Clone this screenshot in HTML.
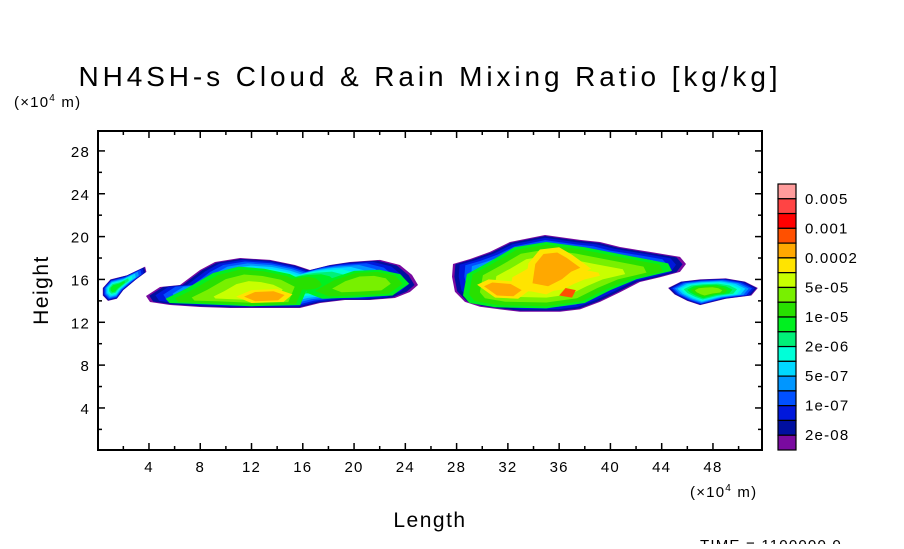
<!DOCTYPE html>
<html><head><meta charset="utf-8"><style>
html,body{margin:0;padding:0;background:#fff;}
svg text{font-family:"Liberation Sans",sans-serif;fill:#000;}
</style></head><body>
<svg id="chart" width="904" height="544" viewBox="0 0 904 544" xmlns="http://www.w3.org/2000/svg">
<text x="430" y="86" font-size="28" text-anchor="middle" letter-spacing="3.9">NH4SH-s Cloud &amp; Rain Mixing Ratio [kg/kg]</text>
<text x="14" y="107" font-size="15" letter-spacing="1.2">(×10<tspan font-size="10" dy="-6">4</tspan><tspan dy="6"> m)</tspan></text>
<text x="0" y="0" font-size="21" text-anchor="middle" letter-spacing="1.5" transform="translate(48,290) rotate(-90)">Height</text>
<text x="430" y="527" font-size="21" text-anchor="middle" letter-spacing="1.5">Length</text>
<text x="690" y="497" font-size="15" letter-spacing="1.2">(×10<tspan font-size="10" dy="-6">4</tspan><tspan dy="6"> m)</tspan></text>
<text x="700" y="550" font-size="15" letter-spacing="1.2">TIME =  1100000.0</text>
<g id="fields"></g>
<g id="axes"></g>
<g id="cbar"></g>
</svg>
<script>
const colors=["#7a0aa0","#000fa0","#0018dc","#0050ff","#0096ff","#00d8ff","#00ffd8","#00f078","#00f020","#28e000","#78f000","#c8ff00","#ffe400","#ffa800","#ff5000","#ff0000","#ff4444","#ff9c9c"];
const cbarLabels=["0.005","0.001","0.0002","5e-05","1e-05","2e-06","5e-07","1e-07","2e-08"];
const xTicks=[4,8,12,16,20,24,28,32,36,40,44,48];
const yTicks=[4,8,12,16,20,24,28];
const blobOutlines=[
 [[0.4,15.2],[1,16],[2.3,16.4],[3,16.8],[3.7,17.2],[3.8,16.7],[3,16],[2,15],[1.5,14.2],[0.8,14],[0.4,14.5]],
 [[3.77,14.45],[4.86,15.29],[6.42,15.48],[7.98,16.88],[9.15,17.63],[11.1,18.0],[13.44,17.82],[15.39,17.35],[16.56,16.88],[18.12,17.35],[19.68,17.63],[22.02,17.82],[23.58,17.35],[24.52,16.42],[24.99,15.48],[24.36,14.83],[23.19,14.27],[21.24,14.08],[19.29,14.08],[17.34,13.8],[15.78,13.33],[13.44,13.33],[10.32,13.33],[7.98,13.43],[5.64,13.61],[4.08,13.89]],
 [[5.3,14.2],[7,15.2],[9,16.6],[11,17.2],[13,17],[15,16.5],[16.5,15.6],[15.8,13.6],[12,13.5],[8,13.7],[5.6,13.8]],
 [[16.2,14.8],[18,16],[20,16.8],[22,16.9],[23.6,16.5],[24.3,15.6],[23,14.5],[20,14.3],[17.5,14.2]],
 [[10.8,14.4],[12,15],[14,15.1],[15.2,14.6],[14.5,13.9],[12,13.8]],
 [[27.72,17.44],[29.05,17.91],[30.6,18.57],[32.16,19.5],[33.72,19.87],[34.9,20.15],[37.63,19.69],[39.19,19.5],[40.75,19.03],[43.09,18.57],[45.43,18.1],[45.9,17.44],[45.43,16.7],[43.87,16.2],[42.3,15.76],[40.75,14.8],[39.19,13.9],[37.63,13.2],[36.07,12.98],[34.5,12.98],[32.94,12.98],[31.38,13.2],[29.82,13.45],[28.65,13.9],[27.87,14.85],[27.64,16.25]],
 [[28.5,14.5],[28.8,16.5],[30.5,17.6],[32.5,19],[35,19.5],[38,19],[41,18.3],[44.5,17.5],[44.8,16.8],[42,16],[40,15],[38,13.8],[35,13.3],[31,13.4],[29,13.8]],
 [[33.3,15],[33.6,17.5],[34.5,18.8],[36,19],[37,18.3],[38.5,17],[37.5,16.5],[36.5,15.5],[35,14.6]],
 [[29.6,15.5],[30.5,16],[32.5,15.8],[33.7,15],[32.8,14.2],[31,14.3]],
 [[36,14.5],[36.5,15.2],[37.3,15],[37,14.3]],
 [[44.5,15.2],[45.5,15.8],[47,16],[49,16.1],[50.5,15.8],[51.5,15.2],[51,14.5],[49,14.2],[47,13.6],[46,14],[45,14.6]]
];
const blobCores=[[1.3,15.2],[14,15.5],[12.5,14.6],[21,15.6],[13,14.4],[35,16.5],[35,16],[35.5,17.3],[31.5,15],[36.6,14.8],[47.5,14.9]];
const blobLevelLo=[0,0,8,8,12,0,8,12,12,14,0];
const blobLevelHi=[8,9,11,10,13,9,12,13,13,14,10];

const NS="http://www.w3.org/2000/svg";
const X0=97.7,XS=12.818,Y0=450.8,YS=10.71;
const px=x=>X0+x*XS, py=y=>Y0-y*YS;
const fields=document.getElementById('fields');
for(let k=0;k<colors.length;k++){
 for(let b=0;b<blobOutlines.length;b++){
  const lo=blobLevelLo[b],hi=blobLevelHi[b];
  if(k<lo||k>hi) continue;
  const t=(k-lo)/(hi-lo+1);
  const s=1-0.8*Math.pow(t,1.5);
  const c=blobCores[b];
  const pts=blobOutlines[b].map(p=>px(c[0]+(p[0]-c[0])*s).toFixed(1)+","+py(c[1]+(p[1]-c[1])*s).toFixed(1)).join(" ");
  const pg=document.createElementNS(NS,'polygon');
  pg.setAttribute('points',pts);
  pg.setAttribute('fill',colors[k]);
  
  
  fields.appendChild(pg);
 }
}
const axes=document.getElementById('axes');
function line(x1,y1,x2,y2,w,name){const l=document.createElementNS(NS,'line');l.setAttribute('x1',x1);l.setAttribute('y1',y1);l.setAttribute('x2',x2);l.setAttribute('y2',y2);l.setAttribute('stroke','#000');l.setAttribute('stroke-width',w);
 
 
 axes.appendChild(l);}
function text(x,y,str,anchor,name,parent){const t=document.createElementNS(NS,'text');t.setAttribute('x',x);t.setAttribute('y',y);t.setAttribute('font-size','15');t.setAttribute('letter-spacing','1.2');t.setAttribute('text-anchor',anchor);t.textContent=str;
 
 
 (parent||axes).appendChild(t);}
const L=98,R=762,T=131,B=450;
const fr=document.createElementNS(NS,'rect');fr.setAttribute('x',L);fr.setAttribute('y',T);fr.setAttribute('width',R-L);fr.setAttribute('height',B-T);fr.setAttribute('fill','none');fr.setAttribute('stroke','#000');fr.setAttribute('stroke-width','2');


axes.appendChild(fr);
for(let v=2;v<52;v+=2){const major=v%4===0;const len=major?7:4;line(px(v),B,px(v),B-len,1.5,'x-tick');line(px(v),T,px(v),T+len,1.5,'x-tick-top');}
for(let v=2;v<30;v+=2){const major=v%4===0;const len=major?7:4;line(L,py(v),L+len,py(v),1.5,'y-tick');line(R,py(v),R-len,py(v),1.5,'y-tick-right');}
xTicks.forEach(v=>text(px(v),472,String(v),'middle','x-tick-label'));
yTicks.forEach(v=>text(90,py(v)+6,String(v),'end','y-tick-label'));
const cb=document.getElementById('cbar');
const cbTop=184,cbBot=450,n=colors.length,h=(cbBot-cbTop)/n;
for(let i=0;i<n;i++){const r=document.createElementNS(NS,'rect');r.setAttribute('x',778);r.setAttribute('y',cbTop+i*h);r.setAttribute('width',18);r.setAttribute('height',h);r.setAttribute('fill',colors[n-1-i]);r.setAttribute('stroke','#000');r.setAttribute('stroke-width','1.2');
 
 
 cb.appendChild(r);}
cbarLabels.forEach((s,i)=>text(805,cbTop+(2*i+1)*h+5,s,'start','colorbar-label',cb));
</script>
</body></html>
